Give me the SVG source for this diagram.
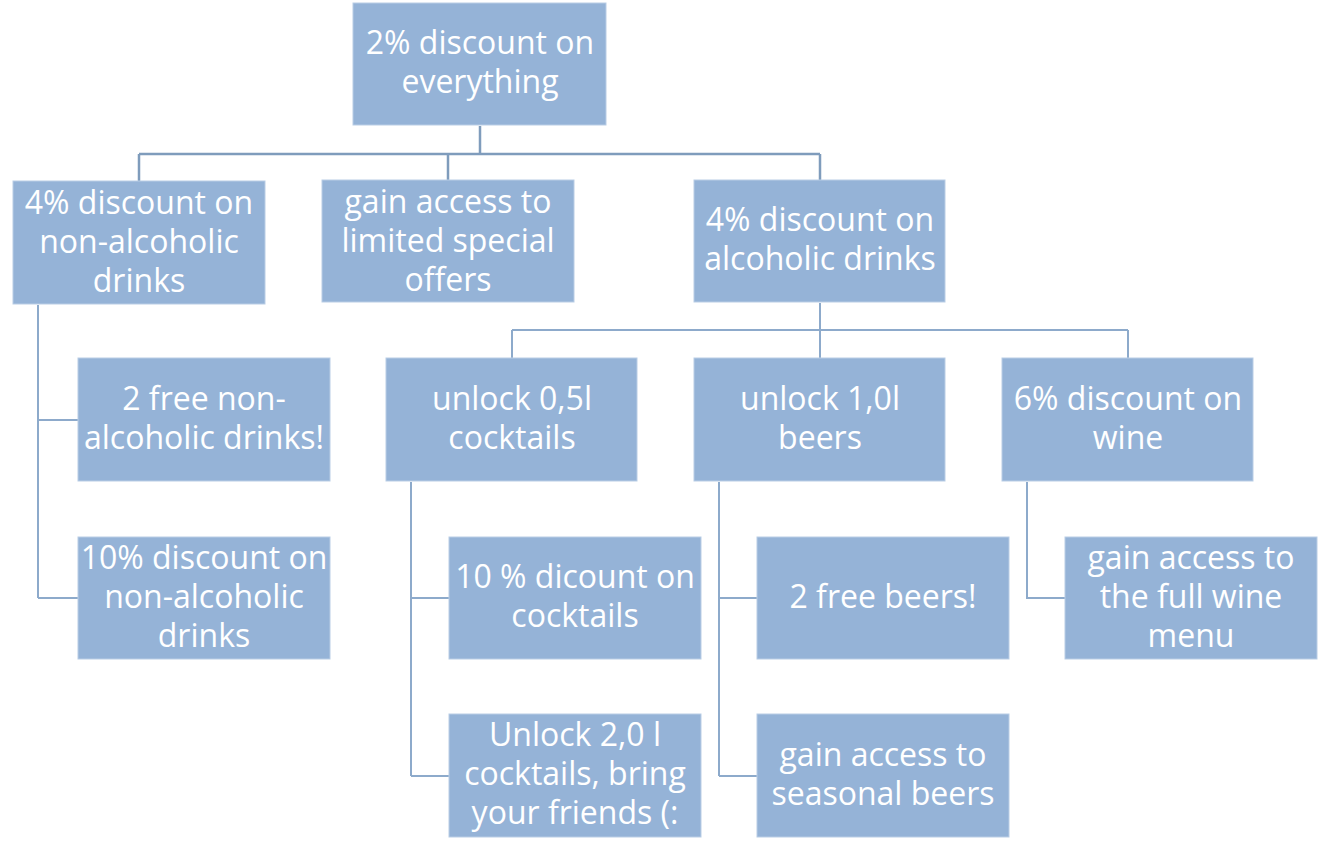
<svg xmlns="http://www.w3.org/2000/svg" width="1320" height="859" viewBox="0 0 1320 859">
<style>
.box{fill:#95B3D7;stroke:#B9CDE5;stroke-width:1}
.t{font-family:"Open Sans","Liberation Sans",sans-serif;font-size:32px;fill:#FFFFFF;text-anchor:middle}
.c{fill:none;stroke:#8DAACB;stroke-width:2}
.c0{fill:none;stroke:#7F9CBC;stroke-width:2.5}
</style>
<rect width="1320" height="859" fill="#FFFFFF"/>
<g id="connectors">
<path class="c0" d="M480 126 V154 M139 154 H820 M139 154 V181 M448 154 V180 M820 154 V180"/>
<path class="c" d="M38 305 V598 M38 420 H78 M38 598 H78"/>
<path class="c" d="M820 303 V358 M512 330 H1128 M512 330 V358 M1128 330 V358"/>
<path class="c" d="M411 482 V776 M411 598 H449 M411 776 H449"/>
<path class="c" d="M719 482 V776 M719 598 H757 M719 776 H757"/>
<path class="c" d="M1027 482 V598 H1065"/>
</g>
<g id="root"><rect class="box" x="353" y="3" width="253" height="122"/>
<text class="t" x="480" y="54">2% discount on</text><text class="t" x="480" y="93">everything</text></g>
<g id="n_nonalc"><rect class="box" x="13" y="181" width="252" height="123"/>
<text class="t" x="139" y="214">4% discount on</text><text class="t" x="139" y="253">non-alcoholic</text><text class="t" x="139" y="292">drinks</text></g>
<g id="n_offers"><rect class="box" x="322" y="180" width="252" height="122"/>
<text class="t" x="448" y="213">gain access to</text><text class="t" x="448" y="252">limited special</text><text class="t" x="448" y="291">offers</text></g>
<g id="n_alc"><rect class="box" x="694" y="180" width="251" height="122"/>
<text class="t" x="820" y="231">4% discount on</text><text class="t" x="820" y="270">alcoholic drinks</text></g>
<g id="n_free_nonalc"><rect class="box" x="78" y="358" width="252" height="123"/>
<text class="t" x="204" y="410">2 free non-</text><text class="t" x="204" y="449">alcoholic drinks!</text></g>
<g id="n_10_nonalc"><rect class="box" x="78" y="537" width="252" height="122"/>
<text class="t" x="204" y="569">10% discount on</text><text class="t" x="204" y="608">non-alcoholic</text><text class="t" x="204" y="647">drinks</text></g>
<g id="n_cocktails"><rect class="box" x="386" y="358" width="251" height="123"/>
<text class="t" x="512" y="410">unlock 0,5l</text><text class="t" x="512" y="449">cocktails</text></g>
<g id="n_beers"><rect class="box" x="694" y="358" width="251" height="123"/>
<text class="t" x="820" y="410">unlock 1,0l</text><text class="t" x="820" y="449">beers</text></g>
<g id="n_wine"><rect class="box" x="1002" y="358" width="251" height="123"/>
<text class="t" x="1128" y="410">6% discount on</text><text class="t" x="1128" y="449">wine</text></g>
<g id="n_10_cocktails"><rect class="box" x="449" y="537" width="252" height="122"/>
<text class="t" x="575" y="588">10 % dicount on</text><text class="t" x="575" y="627">cocktails</text></g>
<g id="n_2l_cocktails"><rect class="box" x="449" y="714" width="252" height="123"/>
<text class="t" x="575" y="746">Unlock 2,0 l</text><text class="t" x="575" y="785">cocktails, bring</text><text class="t" x="575" y="824">your friends (:</text></g>
<g id="n_free_beers"><rect class="box" x="757" y="537" width="252" height="122"/>
<text class="t" x="883" y="608">2 free beers!</text></g>
<g id="n_seasonal"><rect class="box" x="757" y="714" width="252" height="123"/>
<text class="t" x="883" y="766">gain access to</text><text class="t" x="883" y="805">seasonal beers</text></g>
<g id="n_wine_menu"><rect class="box" x="1065" y="537" width="252" height="122"/>
<text class="t" x="1191" y="569">gain access to</text><text class="t" x="1191" y="608">the full wine</text><text class="t" x="1191" y="647">menu</text></g>
</svg>
